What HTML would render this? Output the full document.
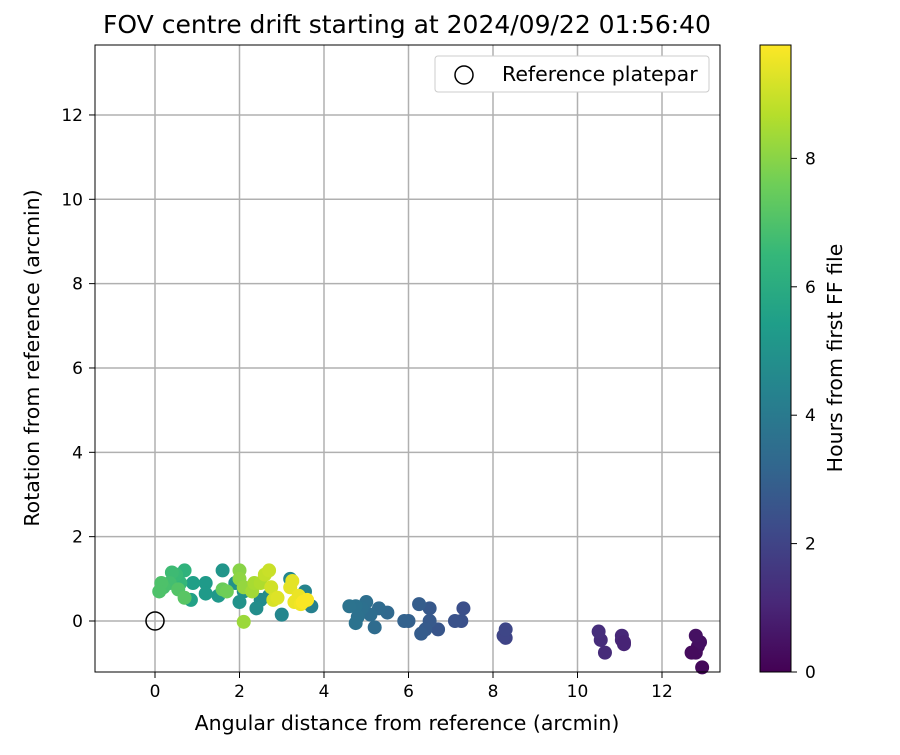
<!DOCTYPE html>
<html><head><meta charset="utf-8"><style>
body{margin:0;background:#fff;font-family:"Liberation Sans","DejaVu Sans",sans-serif;}
svg text{font-family:"DejaVu Sans","Liberation Sans",sans-serif;fill:#000;}
</style></head><body>
<svg id="c" width="900" height="750" xmlns="http://www.w3.org/2000/svg">
<defs><linearGradient id="vg" x1="0" y1="1" x2="0" y2="0">
<stop offset="0" stop-color="#440154"/><stop offset="0.111" stop-color="#482878"/><stop offset="0.222" stop-color="#3e4989"/><stop offset="0.333" stop-color="#31688e"/><stop offset="0.444" stop-color="#26828e"/><stop offset="0.555" stop-color="#1f9e89"/><stop offset="0.666" stop-color="#35b779"/><stop offset="0.777" stop-color="#6ece58"/><stop offset="0.888" stop-color="#b5de2b"/><stop offset="1" stop-color="#fde725"/></linearGradient></defs>
<text x="407" y="33" font-size="25" text-anchor="middle">FOV centre drift starting at 2024/09/22 01:56:40</text>
<g id="grid"></g>
<g id="pts"></g>
<rect x="95" y="45" width="625" height="627" fill="none" stroke="#000" stroke-width="1"/>
<g id="ticks"></g>
<text x="407" y="730" font-size="20.5" text-anchor="middle">Angular distance from reference (arcmin)</text>
<text transform="translate(39,358) rotate(-90)" font-size="20.5" text-anchor="middle">Rotation from reference (arcmin)</text>
<g>
<rect x="435" y="56" width="274" height="36" rx="3" fill="#fff" stroke="#ccc"/>
<circle cx="464" cy="75" r="9" fill="none" stroke="#000" stroke-width="1.5"/>
<text x="502" y="81" font-size="20.5">Reference platepar</text>
</g>
<rect x="760" y="45" width="31" height="627" fill="url(#vg)" stroke="#000"/>
<g id="cb"></g>
<text transform="translate(842,358) rotate(-90)" font-size="20.5" text-anchor="middle">Hours from first FF file</text>
</svg>
<script>
const xs=[12.95,12.8,12.85,12.9,12.8,12.7,11.1,11.05,11.05,11.1,10.65,10.55,10.5,8.3,8.25,8.3,7.3,7.25,7.1,6.7,6.5,6.5,6.4,6.3,6.25,6.0,5.9,5.5,5.3,5.2,5.1,5.0,4.9,4.8,4.75,4.75,4.6,3.7,3.55,3.2,3.0,2.7,2.5,2.4,2.1,2.0,1.9,1.6,1.5,1.2,1.2,0.9,0.85,0.7,0.6,0.5,0.4,0.35,0.2,0.15,0.1,0.55,0.7,1.6,1.7,2.0,2.0,2.1,2.1,2.3,2.35,2.5,2.6,2.7,2.75,2.8,2.9,3.2,3.3,3.4,3.45,3.5,3.6,3.25];
const ys=[-1.1,-0.75,-0.6,-0.5,-0.35,-0.75,-0.55,-0.45,-0.35,-0.5,-0.75,-0.45,-0.25,-0.4,-0.35,-0.2,0.3,0.0,0.0,-0.2,0.3,0.0,-0.2,-0.3,0.4,0.0,0.0,0.2,0.3,-0.15,0.15,0.45,0.3,0.1,-0.05,0.35,0.35,0.35,0.7,1.0,0.15,0.6,0.5,0.3,0.7,0.45,0.9,1.2,0.6,0.9,0.65,0.9,0.5,1.2,0.9,1.1,1.15,0.9,0.8,0.9,0.7,0.75,0.55,0.75,0.7,1.2,1.0,0.8,-0.02,0.7,0.9,0.9,1.1,1.2,0.8,0.5,0.55,0.8,0.45,0.6,0.4,0.45,0.5,0.95];
const ts=[0.2,0.3,0.35,0.4,0.45,0.3,1.0,1.05,1.1,1.0,1.2,1.25,1.3,2.0,2.05,2.1,2.4,2.45,2.5,2.6,2.7,2.75,2.8,2.85,2.9,3.0,3.05,3.3,3.4,3.45,3.5,3.55,3.6,3.65,3.7,3.7,3.75,4.3,4.4,4.5,4.5,4.7,4.7,4.8,4.9,5.0,5.0,5.1,5.2,5.3,5.3,5.5,5.6,6.3,6.5,6.6,6.7,6.8,6.9,7.0,7.0,7.1,7.2,7.5,7.6,8.0,8.1,8.2,8.3,8.4,8.5,8.6,8.9,9.0,9.1,9.2,9.3,9.4,9.5,9.5,9.6,9.7,9.7,9.4];
const xTicks=[0,2,4,6,8,10,12];
const yTicks=[0,2,4,6,8,10,12];
const cbTicks=[0,2,4,6,8];
const X=v=>155+(v)*42.25, Y=v=>621-v*42.17, CB=v=>672-v*64.2;
const vir=["#440154","#482878","#3e4989","#31688e","#26828e","#1f9e89","#35b779","#6ece58","#b5de2b","#fde725"];
function col(t){let f=Math.max(0,Math.min(1,t/9.77))*(vir.length-1);let i=Math.min(Math.floor(f),vir.length-2),r=f-i;
const a=vir[i],b=vir[i+1];const p=k=>parseInt(a.substr(k,2),16)*(1-r)+parseInt(b.substr(k,2),16)*r;
return `rgb(${p(1)|0},${p(3)|0},${p(5)|0})`;}
const NS="http://www.w3.org/2000/svg";
function mk(tag,at,par){const e=document.createElementNS(NS,tag);for(const k in at)e.setAttribute(k,at[k]);document.getElementById(par).appendChild(e);return e;}
xTicks.forEach(v=>{const l=mk('line',{x1:X(v),x2:X(v),y1:45,y2:672,stroke:'#b0b0b0','stroke-width':1.5},'grid');


mk('line',{x1:X(v),x2:X(v),y1:672,y2:678,stroke:'#000'},'ticks');
const t=mk('text',{x:X(v),y:697,'font-size':17,'text-anchor':'middle'},'ticks');t.textContent=v;

});
yTicks.forEach(v=>{const l=mk('line',{x1:95,x2:720,y1:Y(v),y2:Y(v),stroke:'#b0b0b0','stroke-width':1.5},'grid');


mk('line',{x1:89,x2:95,y1:Y(v),y2:Y(v),stroke:'#000'},'ticks');
const t=mk('text',{x:83,y:Y(v)+6,'font-size':17,'text-anchor':'end'},'ticks');t.textContent=v;

});
cbTicks.forEach(v=>{mk('line',{x1:791,x2:797,y1:CB(v),y2:CB(v),stroke:'#000'},'cb');
const t=mk('text',{x:805,y:CB(v)+6,'font-size':17},'cb');t.textContent=v;

});
xs.forEach((x,i)=>{const c=mk('circle',{cx:X(x),cy:Y(ys[i]),r:7,fill:col(ts[i])},'pts');

});
const r=mk('circle',{cx:X(0),cy:Y(0),r:9,fill:'none',stroke:'#000','stroke-width':1.5},'pts');


</script>
</body></html>
